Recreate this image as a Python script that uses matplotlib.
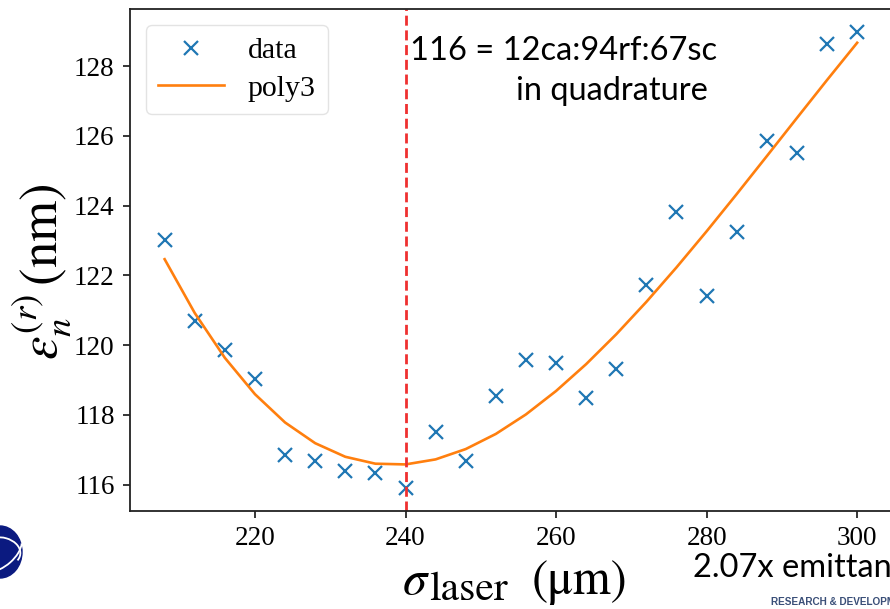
import numpy as np
import matplotlib
matplotlib.use("Agg")
import matplotlib.pyplot as plt
from matplotlib.patches import Ellipse, Arc

# laser spot size scan (um) and measured normalized emittance (nm)
sigma_laser = [208, 212, 216, 220, 224, 228, 232, 236, 240, 244, 248, 252,
               256, 260, 264, 268, 272, 276, 280, 284, 288, 292, 296, 300]
emit = [123.00, 120.68, 119.87, 119.04, 116.85, 116.67, 116.39, 116.33,
        115.90, 117.51, 116.67, 118.55, 119.56, 119.50, 118.49, 119.33,
        121.72, 123.82, 121.40, 123.24, 125.84, 125.52, 128.63, 128.98]
sigma_opt = 240
xticks = [220, 240, 260, 280, 300]
yticks = [116, 118, 120, 122, 124, 126, 128]

# poly3 fit evaluated at the scan points
coef = np.polyfit(sigma_laser, emit, 3)
fit = np.polyval(coef, sigma_laser)

plt.rcParams['mathtext.fontset'] = 'stix'

W, H = 890, 609
fig = plt.figure(figsize=(W / 100, H / 100), dpi=100)
ax = fig.add_axes([130 / W, 1 - 511 / H, 1.002 - 130 / W, (511 - 9) / H])

def px(x, y):
    # pixel position (from top-left) -> figure fraction
    return x / W, 1 - y / H

ax.plot(sigma_laser, emit, 'x', color='tab:blue', ms=9.5, mew=1.6, label='data')
ax.plot(sigma_laser, fit, '-', color='tab:orange', lw=1.9, label='poly3')
ax.axvline(sigma_opt, color='#ef3030', ls='--', lw=2.0, dashes=(3.6, 1.7))

ax.set_xticks(xticks)
ax.set_yticks(yticks)
for lab in ax.get_xticklabels() + ax.get_yticklabels():
    lab.set_family('Liberation Serif')
    lab.set_fontsize(19.5)
ax.tick_params(length=5, width=1.1, pad=6)
for s in ax.spines.values():
    s.set_linewidth(1.3)
    s.set_color('#222222')

leg = ax.legend(loc='upper left', prop={'family': 'Liberation Serif', 'size': 21.5},
                handlelength=2.2, borderpad=0.4, labelspacing=0.35, borderaxespad=0.55)
leg.get_frame().set_edgecolor('#dddddd')

# annotation about the optimum
fig.text(*px(410, 60), '116 = 12ca:94rf:67sc', family='Lato', fontsize=23.5,
         ha='left', va='baseline')
fig.text(*px(612, 100), 'in quadrature', family='Lato', fontsize=23.5,
         ha='center', va='baseline')

# axis labels
fig.text(*px(42, 272), r'$\varepsilon_n^{(r)}\,(\mathrm{nm})$', fontsize=38,
         rotation=90, ha='center', va='center')
fig.text(*px(402, 594), r'$\sigma$', fontsize=35, ha='left', va='baseline')
fig.text(*px(429, 600), 'laser', family='STIXGeneral', fontsize=30, ha='left', va='baseline')
fig.text(*px(532, 594), '(μm)', family='STIXGeneral', fontsize=35, ha='left', va='baseline')

# slide leftovers
fig.text(*px(693, 577), '2.07x emittance', family='Lato', fontsize=23.5,
         ha='left', va='baseline')
fig.text(*px(771, 602), 'RESEARCH & DEVELOPMENT', family='Liberation Sans',
         fontsize=7.2, weight='bold', color='#3a4f78', ha='left', va='center')
cx, cy = px(0, 552)
fig.patches.append(Ellipse((cx, cy), 44 / W, 52 / H, transform=fig.transFigure,
                           color='#0b1a80'))
fig.patches.append(Arc((cx, cy), 40 / W, 30 / H, angle=25, theta1=-60, theta2=80,
                       transform=fig.transFigure, color='white', lw=1.3))
fig.patches.append(Arc((cx, cy), 34 / W, 44 / H, angle=-30, theta1=-80, theta2=60,
                       transform=fig.transFigure, color='white', lw=1.3))

fig.savefig('out.png', dpi=100)
